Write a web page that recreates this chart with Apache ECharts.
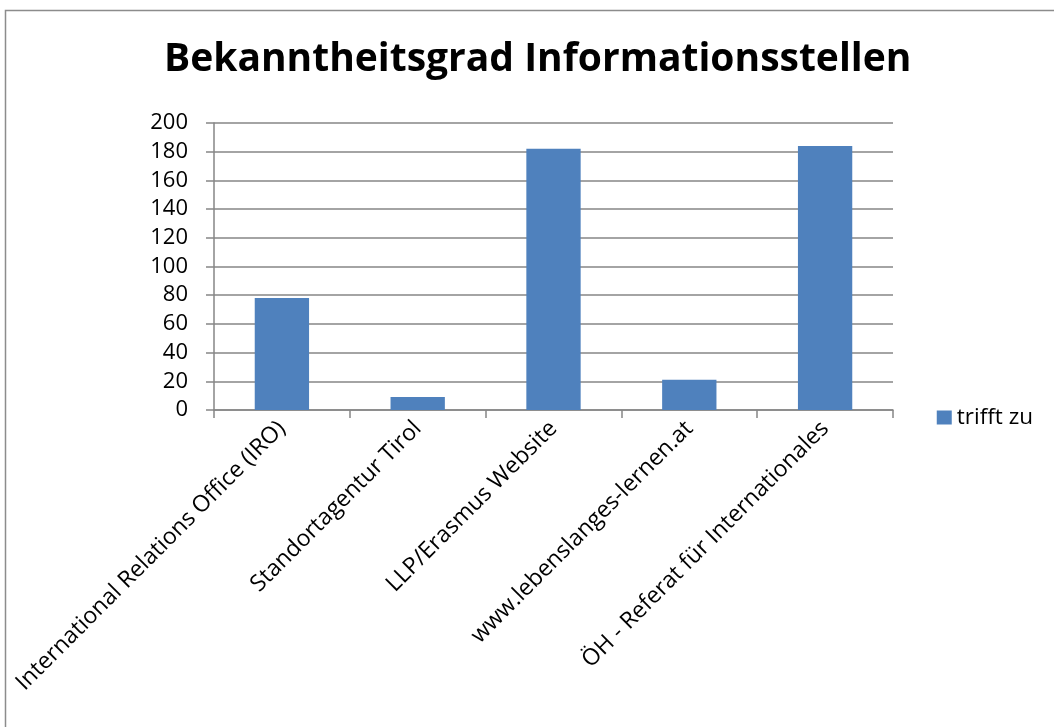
<!DOCTYPE html>
<html>
<head>
<meta charset="utf-8">
<script src="https://cdn.jsdelivr.net/npm/echarts@6/dist/echarts.min.js"></script>
<style>
  html, body { margin: 0; padding: 0; background: #fff; }
  #chart { width: 1054px; height: 727px; }
</style>
</head>
<body>
<div id="chart"></div>
<script>
const titleText = 'Bekanntheitsgrad Informationsstellen'
const seriesName = 'trifft zu'
const categories = [
  'International Relations Office (IRO)',
  'Standortagentur Tirol',
  'LLP/Erasmus Website',
  'www.lebenslanges-lernen.at',
  'ÖH - Referat für Internationales',
]
const values = [78, 9, 182, 21, 184]
const yMin = 0
const yMax = 200
const yStep = 20

const fontFamily = '"Open Sans", "Noto Sans", sans-serif'
const axisGray = '#868686'

const chart = echarts.init(document.getElementById('chart'))

chart.setOption({
  animation: false,
  backgroundColor: '#ffffff',
  textStyle: { fontFamily },
  title: {
    text: titleText,
    left: 159,
    top: 35,
    textStyle: {
      fontFamily,
      fontSize: 39,
      fontWeight: 'bold',
      color: '#000',
    },
  },
  graphic: [
    {
      type: 'rect',
      shape: { x: 5.5, y: 10.5, width: 1100, height: 800 },
      style: { fill: 'none', stroke: '#8c8c8c', lineWidth: 1.5 },
      silent: true,
    },
  ],
  legend: {
    right: 16,
    top: 401,
    orient: 'vertical',
    icon: 'rect',
    itemWidth: 15,
    itemHeight: 14,
    itemGap: 8,
    textStyle: { fontFamily, fontSize: 22.5, color: '#000' },
    data: [seriesName],
  },
  grid: {
    left: 214,
    right: 161,
    top: 123,
    bottom: 317,
    containLabel: false,
  },
  xAxis: {
    type: 'category',
    data: categories,
    axisLine: { lineStyle: { color: axisGray, width: 1.5 } },
    axisTick: { show: true, length: 8, lineStyle: { color: axisGray, width: 1.5 } },
    axisLabel: {
      rotate: 45,
      interval: 0,
      margin: 15,
      color: '#000',
      fontFamily,
      fontSize: 23,
    },
  },
  yAxis: {
    type: 'value',
    min: yMin,
    max: yMax,
    interval: yStep,
    axisLine: { show: true, lineStyle: { color: axisGray, width: 1.5 } },
    axisTick: { show: true, length: 8, lineStyle: { color: axisGray, width: 1.5 } },
    splitLine: { lineStyle: { color: axisGray, width: 1.5 } },
    axisLabel: {
      margin: 26,
      color: '#000',
      fontFamily,
      fontSize: 22,
    },
  },
  series: [
    {
      name: seriesName,
      type: 'bar',
      data: values,
      barWidth: '40%',
      itemStyle: { color: '#4f81bd' },
    },
  ],
})
</script>
</body>
</html>
